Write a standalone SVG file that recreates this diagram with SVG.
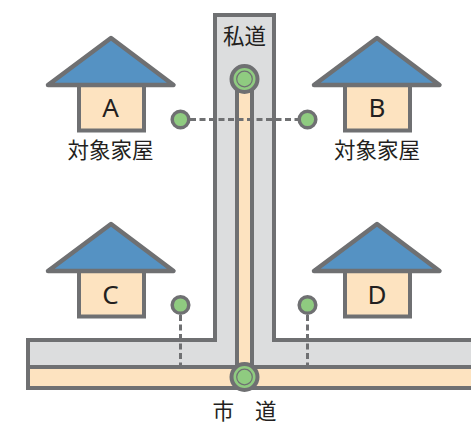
<svg xmlns="http://www.w3.org/2000/svg" width="471" height="425" viewBox="0 0 471 425">
<style>
.roof{fill:#5592c3;stroke:#6f7072;stroke-width:4.5;stroke-linejoin:round}
.box{fill:#fde3c0;stroke:#6f7072;stroke-width:4}
.road{fill:#dcddde;stroke:#6f7072;stroke-width:4}
.lane{fill:#fde3c0;stroke:#6f7072;stroke-width:4}
.pin{fill:#8fcb80;stroke:#6f7072;stroke-width:3.500}
.dash{fill:none;stroke:#6f7072;stroke-width:3;stroke-dasharray:6 3.5}
.ring{fill:#8fcb80;stroke:#6f7072;stroke-width:4}
.core{fill:#8fcb80;stroke:#6f7072;stroke-width:1.200}
text{font-family:"Noto Sans","Noto Sans CJK JP",sans-serif;fill:#231f20;text-anchor:middle}
.l{font-size:26px}
.j{font-size:21.500px}
</style>
<g id="roads">
<path class="road" d="M471 340H274V15H215V340H28V367H471"/>
<path class="lane" d="M471 367H28V388H471"/>
<path class="lane" d="M237 90H252V367H237Z"/>
<rect x="239" y="365" width="11" height="4.500" fill="#fde3c0"/>
</g>
<g id="connectors">
<path class="dash" d="M190 119.500H298"/>
<path class="dash" d="M180.500 315V366"/>
<path class="dash" d="M307.500 315V366"/>
</g>
<g id="junction-private">
<circle class="ring" cx="244.500" cy="79" r="13"/>
<circle class="core" cx="244.500" cy="79" r="7.800"/>
</g>
<g id="junction-city">
<circle class="ring" cx="244.500" cy="377" r="13"/>
<circle class="core" cx="244.500" cy="377" r="7.800"/>
</g>
<g id="pin-a"><circle class="pin" cx="180.500" cy="119.500" r="8.300"/></g>
<g id="pin-b"><circle class="pin" cx="307.500" cy="119.500" r="8.300"/></g>
<g id="pin-c"><circle class="pin" cx="180.500" cy="305" r="8.300"/></g>
<g id="pin-d"><circle class="pin" cx="307.500" cy="305" r="8.300"/></g>
<g id="house-a">
<rect class="box" x="79" y="85" width="65" height="45.500"/>
<path class="roof" d="M111 38L173.500 85H48Z"/>
<text class="l" x="110.500" y="117">A</text>
<text class="j" x="110.500" y="158">対象家屋</text>
</g>
<g id="house-b">
<rect class="box" x="345" y="85" width="65" height="45.500"/>
<path class="roof" d="M377 38L439.500 85H314Z"/>
<text class="l" x="377" y="117">B</text>
<text class="j" x="377" y="158">対象家屋</text>
</g>
<g id="house-c">
<rect class="box" x="79" y="271" width="65" height="45.500"/>
<path class="roof" d="M111 224L173.500 271H48Z"/>
<text class="l" x="110.500" y="304">C</text>
</g>
<g id="house-d">
<rect class="box" x="345" y="271" width="65" height="45.500"/>
<path class="roof" d="M377 224L439.500 271H314Z"/>
<text class="l" x="377" y="304">D</text>
</g>
<text class="j" x="244.500" y="43.500">私道</text>
<text class="j" x="244.500" y="419">市<tspan dx="21">道</tspan></text>
</svg>
